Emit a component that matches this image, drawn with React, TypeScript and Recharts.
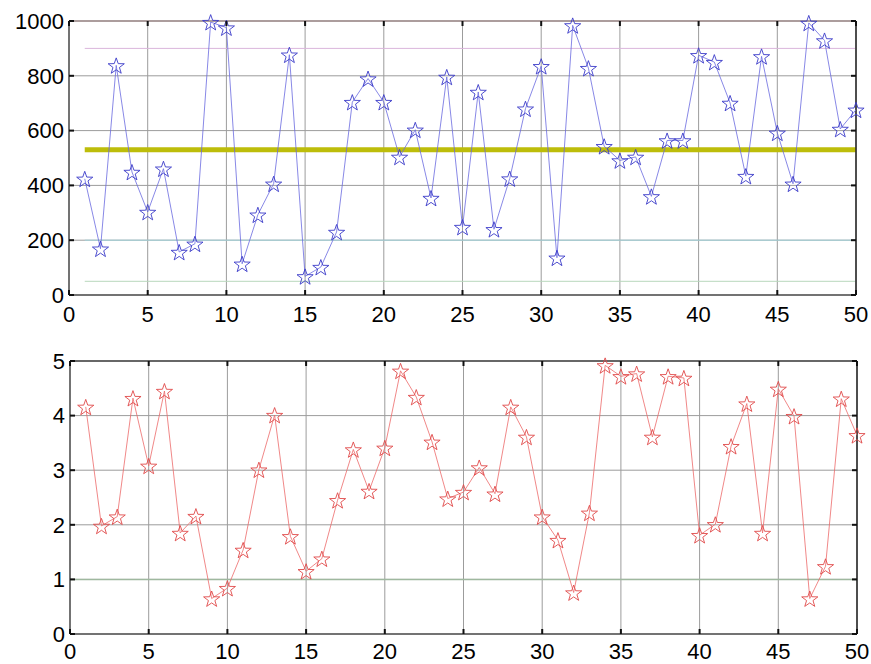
import { LineChart, Line, XAxis, YAxis, CartesianGrid, ReferenceLine } from 'recharts';

// sample index 1..50
const xValues = [
  1, 2, 3, 4, 5, 6, 7, 8, 9, 10, 11, 12, 13, 14, 15, 16, 17, 18, 19, 20, 21, 22, 23, 24, 25,
  26, 27, 28, 29, 30, 31, 32, 33, 34, 35, 36, 37, 38, 39, 40, 41, 42, 43, 44, 45, 46, 47, 48, 49, 50,
];

const topValues = [
  424, 169, 838, 449, 303, 461, 157, 187, 996, 976, 114, 293, 406, 877, 68, 102, 230, 704, 790, 704,
  504, 603, 354, 796, 248, 741, 240, 425, 680, 835, 136, 984, 828, 543, 491, 504, 360, 564, 564, 875,
  850, 701, 434, 871, 592, 406, 993, 929, 606, 676,
];

const bottomValues = [
  4.16, 1.98, 2.15, 4.32, 3.08, 4.45, 1.85, 2.16, 0.65, 0.84, 1.54, 3.01, 4.01, 1.79, 1.15, 1.38, 2.45, 3.38, 2.62, 3.41,
  4.82, 4.34, 3.52, 2.48, 2.6, 3.05, 2.57, 4.16, 3.61, 2.15, 1.72, 0.76, 2.22, 4.92, 4.72, 4.77, 3.61, 4.72, 4.69, 1.81,
  2.01, 3.44, 4.22, 1.85, 4.49, 3.99, 0.65, 1.24, 4.31, 3.64,
];

const xTicks = [0, 5, 10, 15, 20, 25, 30, 35, 40, 45, 50];
const topYTicks = [0, 200, 400, 600, 800, 1000];
const bottomYTicks = [0, 1, 2, 3, 4, 5];

// horizontal limit lines drawn from x=1 to x=50 in the upper plot
const topLevels = [900, 530, 200, 50];
const topLevelColors = ['#dbb6dc', '#bdbd0a', '#a3d2da', '#b8d8bc'];
const topLevelWidths = [1, 5, 1, 1];
const bottomLevels = [1];

const data = xValues.map((x, i) => ({ x, top: topValues[i], bottom: bottomValues[i] }));

const CHART_W = 871;
const PLOT_TOP = 21;
const TICK_LEN = 5;
const font = '"Liberation Sans", Arial, sans-serif';
const FONT_SIZE = 22;

function starPath(cx: number, cy: number, r: number) {
  const inner = r * 0.4;
  let d = '';
  for (let k = 0; k < 10; k++) {
    const rad = k % 2 === 0 ? r : inner;
    const a = -Math.PI / 2 + (k * Math.PI) / 5;
    d += (k === 0 ? 'M' : 'L') + (cx + rad * Math.cos(a)).toFixed(2) + ',' + (cy + rad * Math.sin(a)).toFixed(2);
  }
  return d + 'Z';
}

const makeStar = (color: string) => (props: any) => {
  const { cx, cy, index } = props;
  if (cx == null || cy == null) return <g key={`s-${index}`} />;
  return <path key={`s-${index}`} d={starPath(cx, cy + 1, 8.5)} fill="none" stroke={color} strokeWidth={0.9} />;
};

// x tick label plus MATLAB-style inward ticks on bottom and top edges
const makeXTick = (labelGap: number) => (props: any) => {
  const { x, y, payload } = props;
  const plotBottom = y - labelGap;
  return (
    <g>
      <line x1={x} x2={x} y1={plotBottom} y2={plotBottom - TICK_LEN} stroke="#111" strokeWidth={2} />
      <line x1={x} x2={x} y1={PLOT_TOP} y2={PLOT_TOP + TICK_LEN} stroke="#111" strokeWidth={2} />
      <text x={x} y={y} dy="0.71em" textAnchor="middle" fill="#000" fontSize={FONT_SIZE} fontFamily={font}>
        {payload.value}
      </text>
    </g>
  );
};

// y tick label plus inward ticks on left and right edges
const makeYTick = (plotLeft: number, plotRight: number) => (props: any) => {
  const { x, y, payload } = props;
  return (
    <g>
      <line x1={plotLeft} x2={plotLeft + TICK_LEN} y1={y} y2={y} stroke="#111" strokeWidth={2} />
      <line x1={plotRight - TICK_LEN} x2={plotRight} y1={y} y2={y} stroke="#111" strokeWidth={2} />
      <text x={x} y={y} dy="0.355em" textAnchor="end" fill="#000" fontSize={FONT_SIZE} fontFamily={font}>
        {payload.value}
      </text>
    </g>
  );
};

interface PanelProps {
  dataKey: string;
  yTicks: number[];
  lineColor: string;
  starColor: string;
  height: number;
  left: number;
  right: number;
  bottom: number;
  labelGap: number;
  topBorder: string;
  children?: any;
}

function Panel({ dataKey, yTicks, lineColor, starColor, height, left, right, bottom, labelGap, topBorder, children }: PanelProps) {
  const yMax = yTicks[yTicks.length - 1];
  return (
    <LineChart width={CHART_W} height={height} data={data} margin={{ top: PLOT_TOP, right, bottom, left: 0 }}>
      <CartesianGrid stroke="#9c9c9c" strokeWidth={1} />
      <XAxis
        dataKey="x"
        type="number"
        domain={[0, 50]}
        ticks={xTicks}
        height={30}
        tickLine={false}
        tickSize={0}
        tickMargin={labelGap}
        axisLine={{ stroke: '#555', strokeWidth: 1.5 }}
        tick={makeXTick(labelGap)}
        interval={0}
      />
      <YAxis
        type="number"
        domain={[0, yMax]}
        ticks={yTicks}
        width={left}
        tickLine={false}
        tickSize={0}
        tickMargin={5}
        axisLine={{ stroke: '#555', strokeWidth: 1.5 }}
        tick={makeYTick(left, CHART_W - right)}
        interval={0}
      />
      {children}
      {/* box frame: top and right edges */}
      <ReferenceLine y={yMax} stroke={topBorder} strokeWidth={1.5} />
      <ReferenceLine x={50} stroke="#222" strokeWidth={1.5} />
      <Line
        dataKey={dataKey}
        type="linear"
        stroke={lineColor}
        strokeWidth={0.8}
        dot={makeStar(starColor)}
        activeDot={false}
        isAnimationActive={false}
      />
    </LineChart>
  );
}

export default function App() {
  return (
    <div style={{ position: 'fixed', left: 0, top: 0, width: CHART_W, height: 664, background: '#fff' }}>
      <Panel
        dataKey="top"
        yTicks={topYTicks}
        lineColor="#6a6ae0"
        starColor="#3a3ac8"
        height={340}
        left={69}
        right={15}
        bottom={15}
        labelGap={11}
        topBorder="#a08c8c"
      >
        {topLevels.map((v, i) => (
          <ReferenceLine
            key={v}
            segment={[
              { x: 1, y: v },
              { x: 50, y: v },
            ]}
            stroke={topLevelColors[i]}
            strokeWidth={topLevelWidths[i]}
          />
        ))}
      </Panel>
      <Panel
        dataKey="bottom"
        yTicks={bottomYTicks}
        lineColor="#ec6a6a"
        starColor="#e04848"
        height={324}
        left={70}
        right={14}
        bottom={0}
        labelGap={9}
        topBorder="#444"
      >
        {bottomLevels.map((v) => (
          <ReferenceLine key={v} y={v} stroke="#9fb89f" strokeWidth={1.5} />
        ))}
      </Panel>
    </div>
  );
}
